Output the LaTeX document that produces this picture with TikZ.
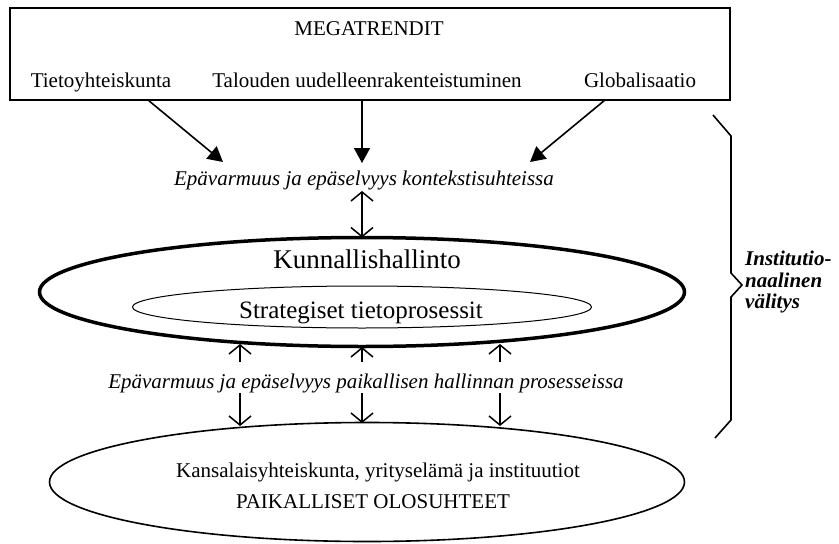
\documentclass[tikz,border=0pt]{standalone}
\usepackage{fontspec}
\setmainfont{Liberation Serif}
\usetikzlibrary{arrows.meta,shapes.geometric}
\begin{document}
\begin{tikzpicture}[x=1pt,y=-1pt,
  txt/.style={inner sep=0pt, anchor=base, font=\fontsize{21}{21}\selectfont},
  itxt/.style={inner sep=0pt, anchor=base, font=\fontsize{21}{21}\selectfont\itshape},
  side/.style={inner sep=0pt, anchor=base west, font=\fontsize{21}{21}\selectfont\bfseries\itshape},
  fat/.style={line width=1.6pt, -{Triangle[length=15pt,width=16pt]}},
  barb/.style={line width=1.5pt, -{Straight Barb[length=9pt,width=22pt]}},
  dbarb/.style={line width=1.5pt, {Straight Barb[length=9pt,width=22pt]}-{Straight Barb[length=9pt,width=22pt]}},
  ell/.style={ellipse, draw, inner sep=0pt, outer sep=0pt}]

\useasboundingbox (0,0) rectangle (839,544);

% top box
\node[draw, line width=1.8pt, minimum width=720pt, minimum height=92pt, inner sep=0pt, outer sep=0pt, anchor=north west] (box) at (10,8) {};
\node[txt] (mega) at (369,35) {MEGATRENDIT};
\node[txt] (t1) at (101,87) {Tietoyhteiskunta};
\node[txt] (t2) at (367,87) {Talouden uudelleenrakenteistuminen};
\node[txt] (t3) at (640,87) {Globalisaatio};

% first uncertainty line
\node[itxt] (e1) at (364,185) {Epävarmuus ja epäselvyys kontekstisuhteissa};

% municipal administration
\node[ell, line width=3.5pt, minimum width=645pt, minimum height=109pt] (kh) at (362,292) {};
\node[txt, font=\fontsize{27}{27}\selectfont] (khl) at (367,268) {Kunnallishallinto};
\node[ell, line width=1pt, minimum width=459pt, minimum height=42pt] (stp) at (362,307) {};
\node[txt, font=\fontsize{25}{25}\selectfont] (stt) at (361,318) {Strategiset tietoprosessit};

% second uncertainty line
\node[itxt] (e2) at (366,388) {Epävarmuus ja epäselvyys paikallisen hallinnan prosesseissa};

% local conditions
\node[ell, line width=1.6pt, minimum width=635pt, minimum height=119pt] (po) at (367,482) {};
\node[txt] (po1) at (378,477) {Kansalaisyhteiskunta, yrityselämä ja instituutiot};
\node[txt] (po2) at (373,508) {PAIKALLISET OLOSUHTEET};

% arrows from megatrends
\coordinate (a1s) at (148,100);
\coordinate (a1e) at (223,162);
\coordinate (a2s) at (362,100);
\coordinate (a2e) at (362,163);
\coordinate (a3s) at (605,100);
\coordinate (a3e) at (530,162);
\draw[fat] (a1s) -- (a1e);
\draw[fat] (a2s) -- (a2e);
\draw[fat] (a3s) -- (a3e);

% two-way arrow
\coordinate (d1) at (362,191);
\draw[dbarb] (d1) -- (kh.north);

% up arrows
\coordinate (u1s) at (240,362); \coordinate (u1e) at (240,344);
\coordinate (u2s) at (362,362); \coordinate (u2e) at (362,347);
\coordinate (u3s) at (500,362); \coordinate (u3e) at (500,344);
\draw[barb] (u1s) -- (u1e);
\draw[barb] (u2s) -- (u2e);
\draw[barb] (u3s) -- (u3e);

% down arrows
\coordinate (w1s) at (240,393); \coordinate (w1e) at (240,426);
\coordinate (w2s) at (362,393); \coordinate (w2e) at (362,423);
\coordinate (w3s) at (500,393); \coordinate (w3e) at (500,426);
\draw[barb] (w1s) -- (w1e);
\draw[barb] (w2s) -- (w2e);
\draw[barb] (w3s) -- (w3e);

% brace
\draw[line width=1.6pt, line join=miter] (713,115) -- (731,136) -- (731,273) -- (742,285) -- (731,297) -- (731,420) -- (715,438);
\node[side] (s1) at (745,265) {Institutio-};
\node[side] (s2) at (745,287) {naalinen};
\node[side] (s3) at (745,308) {välitys};

\end{tikzpicture}
\end{document}
